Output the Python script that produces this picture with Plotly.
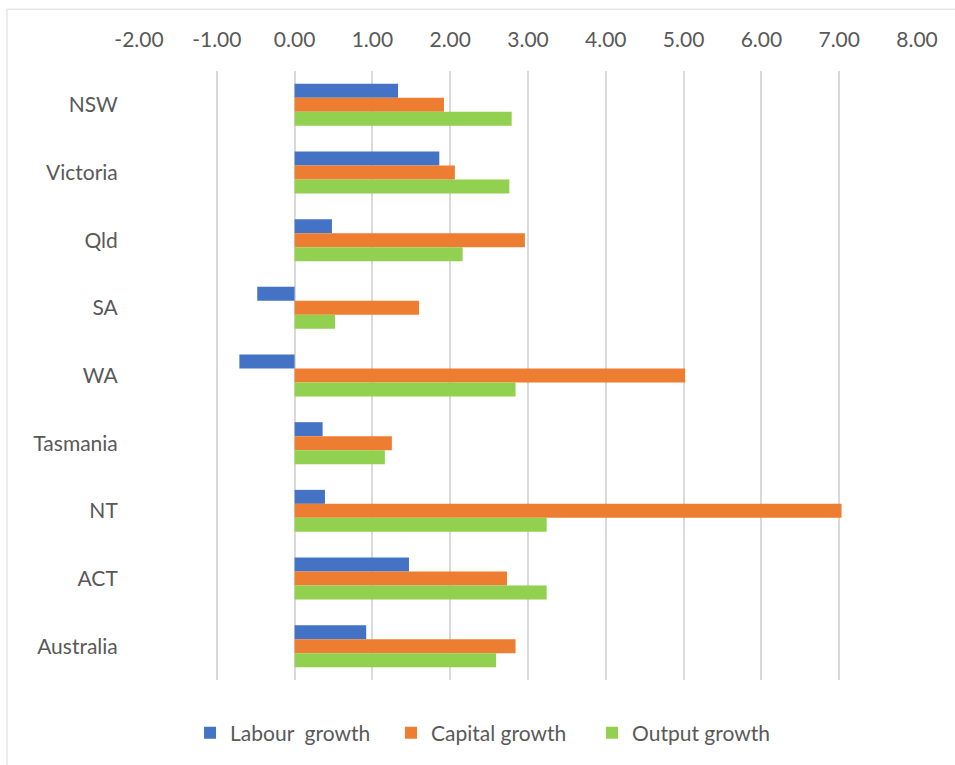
import plotly.graph_objects as go

regions = ["NSW", "Victoria", "Qld", "SA", "WA", "Tasmania", "NT", "ACT", "Australia"]
labour_growth = [1.33, 1.86, 0.48, -0.48, -0.71, 0.36, 0.39, 1.47, 0.92]
capital_growth = [1.92, 2.06, 2.96, 1.60, 5.02, 1.25, 7.03, 2.73, 2.84]
output_growth = [2.79, 2.76, 2.16, 0.52, 2.84, 1.16, 3.24, 3.24, 2.59]
x_ticks = [-2, -1, 0, 1, 2, 3, 4, 5, 6, 7, 8]
x_tick_labels = ["%.2f" % v for v in x_ticks]

FONT = "Lato, Carlito, sans-serif"
TXT = "#595959"
GRID = "#d9d9d9"

fig = go.Figure()
for name, vals, col in [
    ("Labour  growth", labour_growth, "#4472C4"),
    ("Capital growth", capital_growth, "#ED7D31"),
    ("Output growth", output_growth, "#92D050"),
]:
    fig.add_trace(go.Bar(y=regions, x=vals, name=name, orientation="h",
                         marker=dict(color=col, line=dict(width=0))))

fig.update_layout(
    width=955, height=765,
    margin=dict(l=139, r=38, t=71, b=83),
    paper_bgcolor="white", plot_bgcolor="white",
    barmode="group", bargap=0.38, bargroupgap=0,
    font=dict(family=FONT, size=21, color=TXT),
    xaxis=dict(side="top", range=[-2, 8], tickvals=x_ticks, ticktext=x_tick_labels,
               showgrid=True, gridcolor=GRID, gridwidth=1.5,
               zeroline=True, zerolinecolor=GRID, zerolinewidth=1.5,
               showline=False, ticks="outside", ticklen=15, tickcolor="rgba(0,0,0,0)",
               tickfont=dict(family=FONT, size=21, color=TXT), fixedrange=True),
    yaxis=dict(autorange="reversed", showgrid=False, zeroline=False, showline=False,
               ticks="outside", ticklen=16, tickcolor="rgba(0,0,0,0)",
               tickfont=dict(family=FONT, size=21, color=TXT), fixedrange=True),
    legend=dict(orientation="h", x=0.0656, xanchor="left", y=-0.087, yanchor="middle",
                font=dict(family=FONT, size=21, color=TXT), traceorder="normal",
                itemwidth=30, entrywidth=156, entrywidthmode="pixels",
                bgcolor="rgba(0,0,0,0)"),
    shapes=[
        dict(type="line", xref="paper", yref="paper", x0=-0.1697, x1=1.06, y0=1.1015, y1=1.1015,
             line=dict(color=GRID, width=1)),
        dict(type="line", xref="paper", yref="paper", x0=-0.1697, x1=-0.1697, y0=1.1015, y1=-0.15,
             line=dict(color=GRID, width=1)),
    ],
)

fig.write_html("out.html")
